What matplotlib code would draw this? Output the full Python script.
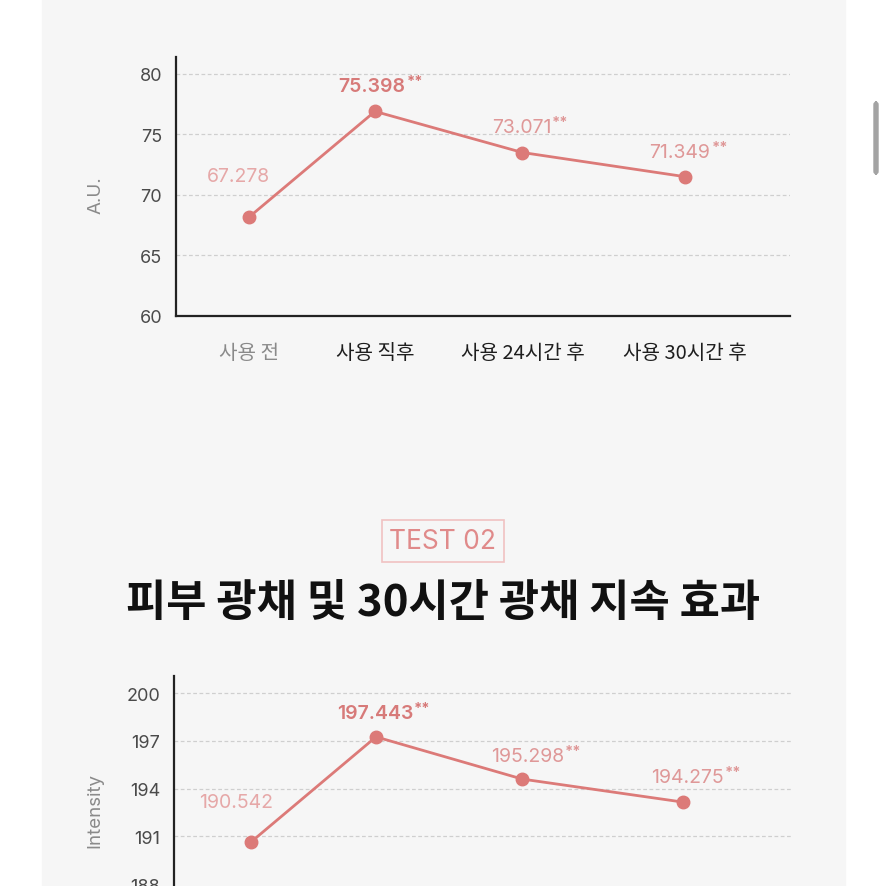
import matplotlib
matplotlib.use('Agg')
import matplotlib.pyplot as plt
from matplotlib.patches import Rectangle, FancyBboxPatch

plt.rcParams['font.family'] = ['Inter', 'Noto Sans CJK KR', 'DejaVu Sans']

W = H = 887.0

# data
categories = ['사용 전', '사용 직후', '사용 24시간 후', '사용 30시간 후']
cat_pos = [0, 1, 2.17, 3.46]
au_values = [68.15, 76.9, 73.5, 71.5]
au_labels = ['67.278', '75.398', '73.071', '71.349']
int_values = [190.65, 197.25, 194.6, 193.15]
int_labels = ['190.542', '197.443', '195.298', '194.275']
stars = ['', '**', '**', '**']

line_col = '#dc7a78'
lab_cols = ['#e6a8a8', '#d77a79', '#df9898', '#df9898']
lab_weights = ['normal', 'semibold', 'normal', 'normal']


def px(x0, y0, x1, y1):
    return [x0 / W, 1 - y1 / H, (x1 - x0) / W, (y1 - y0) / H]


fig = plt.figure(figsize=(8.87, 8.87), dpi=100)
fig.patch.set_facecolor('white')
fig.patches.append(Rectangle((42 / W, 0), (845 - 42) / W, 1, transform=fig.transFigure,
                             color='#f6f6f6', zorder=-5))
fig.patches.append(FancyBboxPatch((874 / W, 1 - 175 / H), 4 / W, 72 / H, transform=fig.transFigure,
                                  boxstyle='round,pad=0,rounding_size=0.003',
                                  color='#a3a3a3', zorder=-4))


def draw(ax, values, labels, ylim, yticks, ylabel, label_xy, offsets, show_x=True):
    ax.set_zorder(2)
    ax.set_facecolor('none')
    ax.plot(cat_pos, values, color=line_col, lw=2, marker='o', ms=9, zorder=3)
    ax.set_ylim(*ylim)
    ax.set_yticks(yticks)
    for y in yticks[1:]:
        ax.axhline(y, color='#cfcfcf', lw=0.9, ls=(0, (3, 2)), zorder=1)
    for s in ['top', 'right']:
        ax.spines[s].set_visible(False)
    for s in ['left', 'bottom']:
        ax.spines[s].set_linewidth(1.6)
        ax.spines[s].set_color('#222222')
    ax.tick_params(axis='y', length=0, pad=10, labelsize=13, labelcolor='#4a4a4a')
    ax.tick_params(axis='x', length=0, pad=19, labelsize=14.5)
    ax.set_xticks(cat_pos)
    if show_x:
        ax.set_xticklabels(categories, family=['Noto Sans CJK KR'], fontweight='medium')
        for i, t in enumerate(ax.get_xticklabels()):
            t.set_color('#8a8a8a' if i == 0 else '#1e1e1e')
    else:
        ax.set_xticklabels([])
    ax.set_ylabel(ylabel, fontsize=13.5, color='#8a8a8a')
    ax.yaxis.set_label_coords(*label_xy)
    for i, (x, y) in enumerate(zip(cat_pos, values)):
        t = ax.annotate(labels[i], (x, y), xytext=offsets[i], textcoords='offset pixels',
                        ha='center', va='center', fontsize=14, color=lab_cols[i],
                        fontweight=lab_weights[i], zorder=4)
        if stars[i]:
            ax.annotate(stars[i], xy=(1.0, 1.0), xycoords=t, xytext=(1, 3),
                        textcoords='offset pixels', ha='left', va='top',
                        fontsize=10.5, color=lab_cols[i], fontweight='bold')


ax1 = fig.add_axes(px(176, 58, 790, 316.7))
ax1.set_xlim(-0.579, 4.294)
draw(ax1, au_values, au_labels, (60, 81.4), [60, 65, 70, 75, 80], 'A.U.', (-0.116, 0.47),
     [(-11, 41), (-3, 25), (-1, 26), (-5, 25)])

ax2 = fig.add_axes(px(174, 677, 792, 930))
ax2.set_xlim(-0.616, 4.328)
draw(ax2, int_values, int_labels, (185.19, 201.07), [188, 191, 194, 197, 200], 'Intensity',
     (-0.115, 0.474), [(-15, 40), (-1, 24), (5, 23), (4, 25)], show_x=False)

fig.text(443 / W, 1 - 542 / H, 'TEST 02', ha='center', va='center', fontsize=19,
         color='#e08a8a', fontweight='normal',
         bbox=dict(boxstyle='square,pad=0.3', fc='none', ec='#f0c2c2', lw=1.2))
fig.text(443 / W, 1 - 603 / H, '피부 광채 및 30시간 광채 지속 효과', ha='center', va='center',
         fontsize=31.5, color='#111111', fontweight='heavy', family=['Noto Sans CJK KR'])

fig.savefig('out.png', dpi=100)
